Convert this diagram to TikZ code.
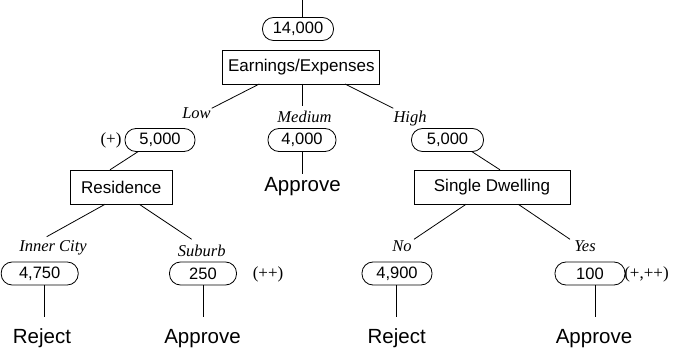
\documentclass[tikz,border=0pt]{standalone}
\usepackage{fontspec}
\setmainfont{Liberation Sans}
\newfontfamily\tms{Liberation Serif}
\begin{document}
\begin{tikzpicture}[x=1pt,y=-1pt,line width=0.8pt,
  pill/.style={draw,rounded corners=11pt,minimum height=23pt,inner sep=0pt,font=\fontsize{16.5}{18}\selectfont},
  boxnode/.style={draw,minimum height=34pt,inner sep=0pt,font=\fontsize{17}{19}\selectfont},
  lbl/.style={anchor=base,inner sep=0pt,font=\tms\itshape\fontsize{16.5}{18}\selectfont},
  note/.style={inner sep=0pt,font=\tms\fontsize{17}{19}\selectfont},
  leaf/.style={anchor=base,inner sep=0pt,font=\fontsize{20.5}{23}\selectfont}]
\useasboundingbox (0,0) rectangle (673,350);
% root
\coordinate (top) at (302.5,0);
\node[pill,minimum width=71pt] (n14) at (298,29) {14,000};
\node[boxnode,minimum width=157pt] (root) at (301.3,67) {Earnings/Expenses};
\draw (top) -- (top |- n14.north);
% edges from root
\coordinate (eLs) at (259.3,84); \coordinate (eLe) at (211.7,108.3);
\coordinate (eMs) at (302.7,84); \coordinate (eMe) at (302.7,106);
\coordinate (eHs) at (345,84);   \coordinate (eHe) at (393.3,108.3);
\draw (eLs) -- (eLe);
\draw (eMs) -- (eMe);
\draw (eHs) -- (eHe);
\node[lbl] (low) at (196.5,118.3) {Low};
\node[lbl] (med) at (304.5,122.7) {Medium};
\node[lbl] (high) at (410,122.7) {High};
% level 1 pills
\node[pill,minimum width=70pt] (pL) at (160,140) {5,000};
\node[pill,minimum width=68pt] (pM) at (302,140) {4,000};
\node[pill,minimum width=72pt] (pH) at (447.5,140) {5,000};
\node[note] (plus) at (111,140) {(+)};
% middle leaf
\coordinate (mEnd) at (302.7,174);
\node[leaf] (apM) at (302.5,192) {Approve};
\draw (pM.south -| mEnd) -- (mEnd);
% residence
\node[boxnode,minimum width=102.7pt] (res) at (121.3,187.2) {Residence};
\node[boxnode,minimum width=156pt] (sd) at (492,187.2) {Single Dwelling};
\coordinate (pLs) at (138.3,151.5); \coordinate (pHs) at (471.7,151.5);
\draw (pLs) -- (110,170 |- res.north);
\draw (pHs) -- (500,170 |- sd.north);
% level 2 edges
\coordinate (rLs) at (105,204.3);   \coordinate (rLe) at (46.7,236.7);
\coordinate (rRs) at (139.3,204.3); \coordinate (rRe) at (191.7,239.3);
\coordinate (sLs) at (466,204.3);   \coordinate (sLe) at (414,239.3);
\coordinate (sRs) at (518.3,204.3); \coordinate (sRe) at (570,239.3);
\draw (rLs) -- (rLe);
\draw (rRs) -- (rRe);
\draw (sLs) -- (sLe);
\draw (sRs) -- (sRe);
\node[lbl] (inner) at (53,251.7) {Inner City};
\node[lbl] (sub) at (201.7,256.7) {Suburb};
\node[lbl] (no) at (402,251.7) {No};
\node[lbl] (yes) at (585,251.7) {Yes};
% bottom pills
\node[pill,minimum width=77pt] (p4750) at (39.7,273.5) {4,750};
\node[pill,minimum width=67pt] (p250) at (203,273.5) {250};
\node[pill,minimum width=70pt] (p4900) at (397,273.5) {4,900};
\node[pill,minimum width=70pt] (p100) at (590,273.5) {100};
\node[note] (pp) at (268,274) {(++)};
\node[note] (ppp) at (646.5,274) {(+,++)};
% leaf lines
\coordinate (c1) at (44.3,316.7);
\coordinate (c2) at (203.3,316.7);
\coordinate (c3) at (396.7,316.7);
\coordinate (c4) at (595,316.7);
\draw (p4750.south -| c1) -- (c1);
\draw (p250.south -| c2) -- (c2);
\draw (p4900.south -| c3) -- (c3);
\draw (p100.south -| c4) -- (c4);
\node[leaf] (rej1) at (42,343) {Reject};
\node[leaf] (ap1) at (202.5,343) {Approve};
\node[leaf] (rej2) at (396.7,343) {Reject};
\node[leaf] (ap2) at (594,343) {Approve};
\end{tikzpicture}
\end{document}
